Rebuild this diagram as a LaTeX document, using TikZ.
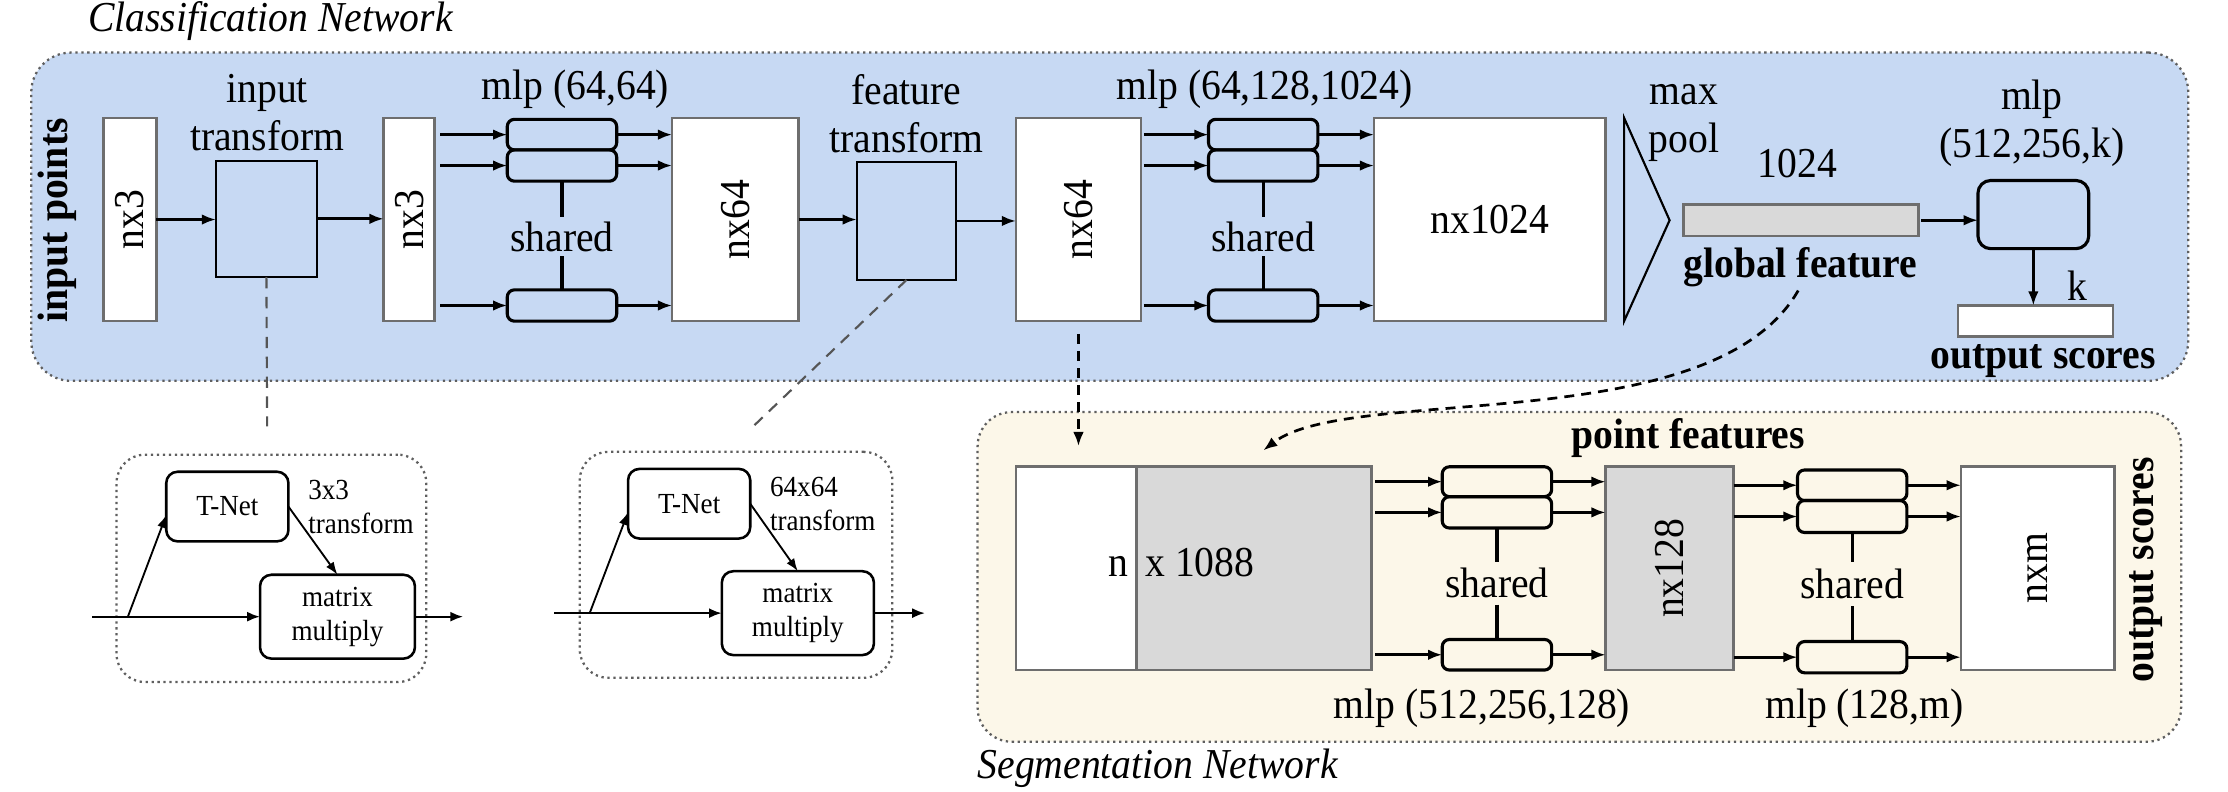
\documentclass[tikz,border=0pt]{standalone}
\usepackage{fontspec}
\setmainfont{Liberation Serif}[FakeStretch=0.93]
\usetikzlibrary{arrows.meta,calc}
\definecolor{bgblue}{RGB}{199,217,243}
\definecolor{bgcream}{RGB}{252,247,233}
\definecolor{boxgray}{RGB}{110,110,110}
\definecolor{fillgray}{RGB}{217,217,217}
\definecolor{dotgray}{RGB}{95,95,95}
\definecolor{dashgray}{RGB}{85,85,85}
\begin{document}
\begin{tikzpicture}[x=1pt,y=-1pt,
  every node/.style={inner sep=0pt,outer sep=0pt},
  big/.style={font=\fontsize{30}{34}\selectfont},
  bigbf/.style={font=\fontsize{30}{34}\selectfont\bfseries},
  bigit/.style={font=\fontsize{30}{34}\selectfont\itshape},
  small/.style={font=\fontsize{20.5}{24}\selectfont},
  arr/.style={line width=1.9pt,-{Latex[length=10pt,width=7.5pt]}},
  marr/.style={line width=1.6pt,-{Latex[length=9pt,width=7pt]}},
  darr/.style={line width=1.3pt,-{Latex[length=9pt,width=6.5pt]}},
  nbox/.style={draw=boxgray,line width=1.9pt,fill=white},
  gbox/.style={draw=boxgray,line width=1.9pt,fill=fillgray},
  tbox/.style={draw=black,line width=1.5pt,fill=bgblue},
  mlpbox/.style={draw=black,line width=2.2pt,rounded corners=5pt,minimum width=77pt},
  modbox/.style={draw=black,line width=1.8pt,rounded corners=8pt,fill=white},
  dotborder/.style={draw=dotgray,line width=1.6pt,dash pattern=on 1.6pt off 2.6pt},
  shl/.style={line width=2.2pt},
  gdash/.style={draw=dashgray,line width=1.5pt,dash pattern=on 8pt off 6pt},
  kdash/.style={line width=1.9pt,dash pattern=on 7pt off 5pt,-{Latex[length=10pt,width=7.5pt]}}
]
\useasboundingbox (0,0) rectangle (1568,557);

% ---------- backgrounds ----------
\node[dotborder,fill=bgblue,rounded corners=28pt,minimum width=1518pt,minimum height=231pt] (cls) at (781,152.5) {};
\node[dotborder,fill=bgcream,rounded corners=24pt,minimum width=847pt,minimum height=232pt] (seg) at (1111.5,406) {};
\node[dotborder,fill=white,rounded corners=20pt,minimum width=218pt,minimum height=160pt] (tm1) at (191,400) {};
\node[dotborder,fill=white,rounded corners=20pt,minimum width=220pt,minimum height=159pt] (tm2) at (518,397.5) {};

% ---------- titles ----------
\node[bigit,anchor=west] (tcls) at (62,15) {Classification Network};
\node[bigit,anchor=west] (tseg) at (688,541) {Segmentation Network};
\node[bigbf,rotate=90] (linpts) at (40,155) {input points};

% ---------- classification network ----------
\node[nbox,minimum width=37pt,minimum height=143pt] (nx3a) at (91.5,154.5) {};
\node[big,rotate=90] (lnx3a) at (nx3a.center) {nx3};
\node[tbox,minimum width=71pt,minimum height=82pt] (itf) at (187.5,154) {};
\node[big,align=center] (litf) at (188,79) {input\\transform};
\node[nbox,minimum width=36pt,minimum height=143pt] (nx3b) at (288,154.5) {};
\node[big,rotate=90] (lnx3b) at (nx3b.center) {nx3};

\node[mlpbox,minimum height=21.5pt] (m1a) at (395.5,94.75) {};
\node[mlpbox,minimum height=22pt] (m1b) at (395.5,116.5) {};
\node[mlpbox,minimum height=22pt] (m1c) at (395.5,215) {};
\node[big] (lm1) at (405,63) {mlp (64,64)};
\node[big,minimum height=28pt] (sh1) at (395.5,166.5) {shared};

\node[nbox,minimum width=89pt,minimum height=143pt] (nx64a) at (517.5,154.5) {};
\node[big,rotate=90] (lnx64a) at (nx64a.center) {nx64};
\node[tbox,minimum width=70pt,minimum height=83pt] (ftf) at (638,155.5) {};
\node[big,align=center] (lftf) at (638,80) {feature\\transform};
\node[nbox,minimum width=88pt,minimum height=143pt] (nx64b) at (759,154.5) {};
\node[big,rotate=90] (lnx64b) at (nx64b.center) {nx64};

\node[mlpbox,minimum height=21.5pt] (m2a) at (889,94.75) {};
\node[mlpbox,minimum height=22pt] (m2b) at (889,116.5) {};
\node[mlpbox,minimum height=22pt] (m2c) at (889,215) {};
\node[big] (lm2) at (890,63) {mlp (64,128,1024)};
\node[big,minimum height=28pt] (sh2) at (889,166.5) {shared};

\node[nbox,minimum width=163pt,minimum height=143pt] (nx1024) at (1048.5,154.5) {};
\node[big] (lnx1024) at (nx1024.center) {nx1024};

\draw[line width=1.5pt,line join=miter] (1143,83) -- (1175,155) -- (1143,226) -- cycle;
\node[big,align=center] (lmp) at (1185,86.5) {max\\pool};
\node[big] (l1024) at (1265,115) {1024};
\node[gbox,minimum width=165pt,minimum height=22pt] (gf) at (1267.5,155) {};
\node[bigbf] (lgf) at (1267,188) {global feature};

\node[draw=black,line width=2.2pt,rounded corners=9pt,minimum width=78pt,minimum height=48pt] (mlp3) at (1431,151) {};
\node[big,align=center] (lm3) at (1430,86.5) {mlp\\(512,256,k)};
\node[nbox,minimum width=109pt,minimum height=22pt] (outb) at (1432.5,226) {};
\node[big] (lk) at (1462,201) {k};
\node[bigbf] (los) at (1438,254) {output scores};

% arrows (classification)
\draw[arr] (nx3a.east) -- (nx3a.east -| itf.west);
\draw[arr] (itf.east) -- (itf.east -| nx3b.west);
\foreach \m in {m1a,m1b,m1c}{
  \draw[arr,shorten <=4pt] (nx3b.east |- \m.west) -- (\m.west);
  \draw[arr] (\m.east) -- (\m.east -| nx64a.west);
}
\draw[shl] (m1b.south) -- (sh1.north);
\draw[shl] (sh1.south) -- (m1c.north);
\draw[arr] (nx64a.east) -- (nx64a.east -| ftf.west);
\draw[arr] (ftf.east) -- (ftf.east -| nx64b.west);
\foreach \m in {m2a,m2b,m2c}{
  \draw[arr,shorten <=2pt] (nx64b.east |- \m.west) -- (\m.west);
  \draw[arr] (\m.east) -- (\m.east -| nx1024.west);
}
\draw[shl] (m2b.south) -- (sh2.north);
\draw[shl] (sh2.south) -- (m2c.north);
\draw[arr,shorten <=2pt] (gf.east) -- (gf.east -| mlp3.west);
\draw[arr] (mlp3.south) -- (mlp3.south |- outb.north);

% ---------- T-Net modules ----------
\node[modbox,small,minimum width=86pt,minimum height=49pt] (tn1) at (160,356.5) {T-Net};
\node[modbox,small,align=center,minimum width=109pt,minimum height=59pt] (mm1) at (237.5,434) {matrix\\multiply};
\node[small,align=left,anchor=west] (l33) at (217,357) {3x3\\transform};
\coordinate (i1) at (65,434);
\coordinate (b1) at (90,434);
\coordinate (o1) at (326,434);
\draw[marr] (i1) -- (mm1.west);
\draw[darr] (b1) -- ($(tn1.west)+(0,6)$);
\draw[darr] (tn1.east) -- (mm1.north);
\draw[marr] (mm1.east) -- (o1);

\node[modbox,small,minimum width=86pt,minimum height=49pt] (tn2) at (485,354.5) {T-Net};
\node[modbox,small,align=center,minimum width=107pt,minimum height=59pt] (mm2) at (561.5,431.5) {matrix\\multiply};
\node[small,align=left,anchor=west] (l64) at (542,355) {64x64\\transform};
\coordinate (i2) at (390,431.5);
\coordinate (b2) at (415,431.5);
\coordinate (o2) at (651,431.5);
\draw[marr] (i2) -- (mm2.west);
\draw[darr] (b2) -- ($(tn2.west)+(0,6)$);
\draw[darr] (tn2.east) -- (mm2.north);
\draw[marr] (mm2.east) -- (o2);

% dashed links
\coordinate (d1) at (188,300);
\coordinate (d2) at (527,303);
\coordinate (d3) at (759,314);
\coordinate (g1) at (889,317);
\draw[gdash] (itf.south) -- (d1);
\draw[gdash] (ftf.south) -- (d2);
\draw[kdash,shorten <=9pt] (nx64b.south) -- (d3);
\draw[kdash,shorten <=3pt] (lgf.south) .. controls (1205,310) and (950,270) .. (g1);

% ---------- segmentation network ----------
\node[bigbf] (lpf) at (1188,308.5) {point features};
\node[nbox,minimum width=85pt,minimum height=143pt] (nw) at (757.5,400) {};
\node[gbox,minimum width=165pt,minimum height=143pt] (ng) at (882.5,400) {};
\node[big,anchor=base east] (ln) at (794,406) {n};
\node[big,anchor=base west] (lx) at (806,406) {x 1088};

\node[mlpbox,minimum height=21pt] (m4a) at (1053.5,339) {};
\node[mlpbox,minimum height=22pt] (m4b) at (1053.5,360.6) {};
\node[mlpbox,minimum height=21.5pt] (m4c) at (1053.5,460.8) {};
\node[big,minimum height=30pt] (sh3) at (1053.5,410.5) {shared};
\node[big] (lm4) at (1043,498.5) {mlp (512,256,128)};

\node[gbox,minimum width=90pt,minimum height=143pt] (nx128) at (1175,400) {};
\node[big,rotate=90] (lnx128) at (nx128.center) {nx128};

\node[mlpbox,minimum height=21.5pt] (m5a) at (1303.5,341.5) {};
\node[mlpbox,minimum height=22.5pt] (m5b) at (1303.5,363.5) {};
\node[mlpbox,minimum height=22pt] (m5c) at (1303.5,462.5) {};
\node[big,minimum height=31pt] (sh4) at (1303.5,411.2) {shared};
\node[big] (lm5) at (1312,498.5) {mlp (128,m)};

\node[nbox,minimum width=108pt,minimum height=143pt] (nxm) at (1434,400) {};
\node[big,rotate=90] (lnxm) at (nxm.center) {nxm};
\node[bigbf,rotate=90] (los2) at (1510,401) {output scores};

\foreach \m in {m4a,m4b,m4c}{
  \draw[arr,shorten <=3pt] (ng.east |- \m.west) -- (\m.west);
  \draw[arr] (\m.east) -- (\m.east -| nx128.west);
}
\draw[shl] (m4b.south) -- (sh3.north);
\draw[shl] (sh3.south) -- (m4c.north);
\foreach \m in {m5a,m5b,m5c}{
  \draw[arr] (nx128.east |- \m.west) -- (\m.west);
  \draw[arr] (\m.east) -- (\m.east -| nxm.west);
}
\draw[shl] (m5b.south) -- (sh4.north);
\draw[shl] (sh4.south) -- (m5c.north);
\end{tikzpicture}
\end{document}
